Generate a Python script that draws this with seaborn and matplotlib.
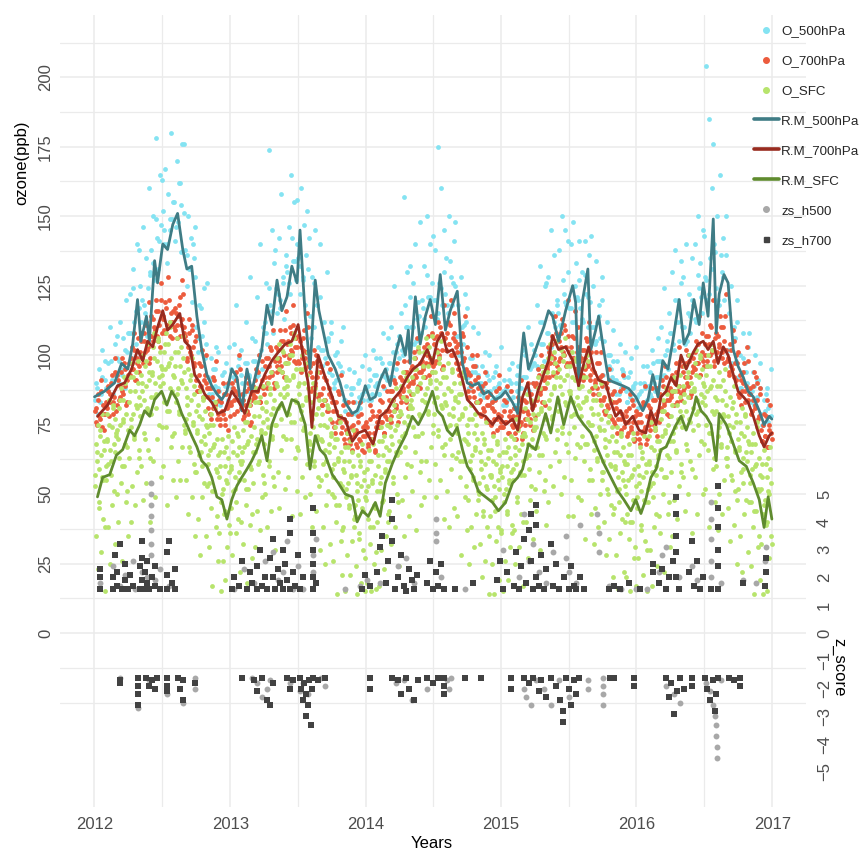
import numpy as np
import pandas as pd
import matplotlib
matplotlib.use("Agg")
import matplotlib.pyplot as plt
import matplotlib.dates as mdates
from matplotlib.lines import Line2D
import seaborn as sns

# ---------------- data ----------------
years = [2012, 2013, 2014, 2015, 2016]

# O_500hPa observations (ppb), one row per month (first sample set)
o500_2012 = [84, 90, 79, 95, 86, 102, 82, 91,
             88, 97, 83, 110, 91, 86, 104, 93,
             99, 90, 112, 95, 106, 88, 120, 101,
             108, 122, 99, 131, 112, 104, 140, 117,
             125, 112, 146, 118, 135, 107, 160, 129,
             138, 150, 127, 178, 142, 131, 165, 147,
             152, 140, 167, 133, 158, 145, 180, 149,
             155, 141, 170, 148, 162, 137, 176, 151,
             138, 125, 150, 131, 142, 119, 135, 128,
             110, 101, 118, 96, 107, 124, 99, 104,
             92, 86, 99, 84, 95, 89, 103, 88,
             87, 82, 93, 80, 89, 97, 84, 90]
o500_2013 = [95, 88, 104, 91, 118, 86, 99, 93,
             90, 84, 97, 112, 87, 93, 128, 89,
             98, 105, 92, 121, 100, 140, 95, 110,
             112, 126, 104, 174, 118, 145, 108, 133,
             124, 115, 142, 120, 158, 128, 113, 136,
             130, 146, 122, 165, 134, 155, 127, 140,
             135, 122, 160, 128, 147, 118, 152, 131,
             114, 106, 128, 110, 145, 118, 103, 121,
             102, 96, 112, 99, 130, 105, 94, 108,
             93, 88, 100, 91, 97, 86, 105, 94,
             84, 80, 89, 83, 95, 86, 79, 88,
             83, 79, 90, 85, 81, 96, 84, 87]
o500_2014 = [88, 84, 95, 91, 86, 102, 89, 93,
             90, 86, 99, 93, 108, 88, 95, 91,
             97, 92, 110, 101, 125, 95, 104, 99,
             106, 115, 100, 157, 110, 130, 103, 121,
             110, 126, 104, 140, 113, 119, 148, 108,
             117, 132, 110, 150, 121, 140, 114, 126,
             120, 138, 113, 175, 126, 160, 118, 145,
             122, 135, 115, 150, 128, 118, 141, 125,
             107, 118, 100, 128, 110, 104, 122, 112,
             92, 88, 99, 94, 110, 90, 96, 93,
             90, 86, 96, 89, 101, 87, 93, 91,
             87, 84, 92, 88, 96, 85, 90, 86]
o500_2015 = [86, 82, 91, 88, 84, 95, 87, 90,
             85, 81, 90, 87, 96, 83, 88, 92,
             92, 100, 88, 110, 95, 104, 90, 97,
             100, 118, 95, 132, 104, 112, 98, 125,
             108, 128, 102, 145, 115, 136, 110, 120,
             115, 138, 110, 150, 122, 145, 118, 130,
             117, 140, 112, 148, 125, 133, 120, 141,
             117, 130, 112, 141, 122, 110, 136, 119,
             110, 125, 104, 134, 112, 118, 106, 128,
             93, 105, 90, 112, 96, 100, 92, 98,
             91, 86, 98, 90, 104, 88, 94, 92,
             87, 83, 92, 85, 99, 88, 84, 90]
o500_2016 = [85, 81, 90, 87, 96, 83, 88, 84,
             89, 94, 85, 102, 90, 87, 98, 92,
             98, 110, 92, 124, 100, 105, 95, 115,
             108, 130, 102, 138, 112, 120, 105, 126,
             110, 128, 104, 140, 115, 122, 108, 135,
             118, 140, 112, 150, 124, 133, 115, 145,
             128, 204, 120, 185, 135, 160, 176, 140,
             124, 150, 118, 165, 130, 142, 120, 136,
             102, 115, 96, 125, 106, 110, 98, 120,
             92, 100, 88, 108, 94, 97, 90, 103,
             87, 83, 94, 89, 100, 85, 91, 88,
             79, 75, 84, 80, 88, 76, 82, 78]
# O_500hPa second sample set
o500b_2012 = [88, 83, 92, 98, 87, 98, 93, 107, 98, 93, 102, 108, 108, 124, 116, 138,
              120, 115, 124, 130, 133, 149, 141, 163, 145, 140, 149, 155, 146, 162, 154, 176,
              136, 131, 140, 146, 106, 117, 112, 126, 91, 86, 95, 101, 83, 94, 89, 103]
o500b_2013 = [92, 87, 96, 102, 86, 97, 92, 106, 98, 93, 102, 108, 108, 124, 116, 138,
              122, 117, 126, 132, 126, 142, 134, 156, 132, 127, 136, 142, 110, 126, 118, 140,
              102, 97, 106, 112, 90, 101, 96, 110, 84, 79, 88, 94, 80, 91, 86, 100]
o500b_2014 = [89, 84, 93, 99, 86, 97, 92, 106, 97, 92, 101, 107, 102, 118, 110, 132,
              110, 105, 114, 120, 113, 129, 121, 143, 120, 115, 124, 130, 118, 134, 126, 148,
              107, 102, 111, 117, 88, 99, 94, 108, 90, 85, 94, 100, 83, 94, 89, 103]
o500b_2015 = [87, 82, 91, 97, 82, 93, 88, 102, 92, 87, 96, 102, 96, 112, 104, 126,
              108, 103, 112, 118, 111, 127, 119, 141, 117, 112, 121, 127, 113, 129, 121, 143,
              110, 105, 114, 120, 89, 100, 95, 109, 91, 86, 95, 101, 83, 94, 89, 103]
o500b_2016 = [86, 81, 90, 96, 86, 97, 92, 106, 98, 93, 102, 108, 104, 120, 112, 134,
              110, 105, 114, 120, 113, 129, 121, 143, 127, 122, 131, 137, 120, 136, 128, 150,
              102, 97, 106, 112, 88, 99, 94, 108, 87, 82, 91, 97, 75, 86, 81, 95]

# O_700hPa
o700_2012 = [80, 76, 86, 78, 91, 74, 82, 79,
             82, 89, 78, 86, 93, 83, 99, 80,
             93, 84, 89, 99, 86, 95, 82, 91,
             97, 93, 103, 95, 108, 91, 99, 96,
             101, 108, 97, 105, 112, 102, 119, 99,
             114, 105, 110, 120, 107, 116, 103, 126,
             113, 109, 119, 111, 128, 107, 115, 112,
             110, 117, 106, 114, 121, 111, 127, 108,
             107, 98, 103, 113, 100, 109, 96, 105,
             91, 87, 97, 89, 102, 85, 93, 90,
             81, 88, 77, 85, 92, 82, 98, 79,
             84, 75, 80, 90, 77, 86, 73, 82]
o700_2013 = [83, 90, 79, 87, 94, 84, 100, 81,
             86, 77, 82, 92, 79, 88, 75, 84,
             89, 85, 95, 87, 100, 83, 91, 88,
             92, 99, 88, 96, 103, 93, 109, 90,
             103, 94, 99, 109, 96, 105, 92, 116,
             104, 100, 110, 102, 118, 98, 106, 103,
             98, 105, 94, 102, 109, 99, 115, 96,
             96, 87, 92, 102, 89, 98, 85, 94,
             86, 82, 92, 84, 97, 80, 88, 85,
             76, 83, 72, 80, 87, 77, 93, 74,
             77, 68, 73, 83, 70, 79, 66, 75,
             72, 68, 78, 70, 83, 66, 74, 71]
o700_2014 = [76, 67, 72, 82, 69, 78, 65, 74,
             78, 74, 84, 76, 89, 72, 80, 77,
             80, 87, 76, 84, 91, 81, 97, 78,
             92, 83, 88, 98, 85, 94, 81, 90,
             95, 91, 101, 93, 106, 89, 97, 94,
             96, 103, 92, 100, 107, 97, 114, 94,
             106, 97, 102, 112, 99, 108, 95, 118,
             106, 102, 112, 104, 120, 100, 108, 105,
             97, 104, 93, 101, 108, 98, 114, 95,
             94, 85, 90, 100, 87, 96, 83, 92,
             83, 79, 89, 81, 94, 77, 85, 82,
             76, 83, 72, 80, 87, 77, 93, 74]
o700_2015 = [78, 74, 84, 76, 89, 72, 80, 77,
             74, 81, 70, 78, 85, 75, 91, 72,
             84, 75, 80, 90, 77, 86, 73, 82,
             89, 85, 95, 87, 100, 83, 91, 88,
             96, 103, 92, 100, 107, 97, 114, 94,
             107, 98, 103, 113, 100, 109, 96, 120,
             101, 97, 107, 99, 116, 95, 103, 100,
             95, 102, 91, 99, 106, 96, 112, 93,
             95, 86, 91, 101, 88, 97, 84, 93,
             84, 80, 90, 82, 95, 78, 86, 83,
             76, 83, 72, 80, 87, 77, 93, 74,
             80, 71, 76, 86, 73, 82, 69, 78]
o700_2016 = [72, 79, 68, 76, 83, 73, 89, 70,
             82, 73, 78, 88, 75, 84, 71, 80,
             85, 81, 91, 83, 96, 79, 87, 84,
             86, 93, 82, 90, 97, 87, 103, 84,
             96, 87, 92, 102, 89, 98, 85, 94,
             99, 95, 105, 97, 114, 93, 101, 98,
             100, 107, 96, 104, 111, 101, 120, 98,
             108, 99, 104, 114, 101, 110, 97, 122,
             98, 94, 104, 96, 109, 92, 100, 97,
             86, 93, 82, 90, 97, 87, 103, 84,
             88, 79, 84, 94, 81, 90, 77, 86,
             73, 69, 79, 71, 84, 67, 75, 72]
# O_700hPa second sample set
o700b_2012 = [81, 75, 84, 77, 87, 79, 73, 83, 81, 87, 83, 90, 79, 85, 94, 82,
              91, 85, 94, 87, 97, 89, 83, 93, 93, 99, 95, 102, 91, 97, 106, 94,
              105, 99, 108, 101, 111, 103, 97, 107, 107, 113, 109, 116, 105, 111, 120, 108,
              114, 108, 117, 110, 120, 112, 106, 116, 109, 115, 111, 118, 107, 113, 122, 110,
              105, 99, 108, 101, 111, 103, 97, 107, 87, 93, 89, 96, 85, 91, 100, 88,
              85, 79, 88, 81, 91, 83, 77, 87, 77, 83, 79, 86, 75, 81, 90, 78]
o700b_2013 = [82, 88, 84, 91, 80, 86, 95, 83, 84, 78, 87, 80, 90, 82, 76, 86,
              85, 91, 87, 94, 83, 89, 98, 86, 96, 90, 99, 92, 102, 94, 88, 98,
              96, 102, 98, 105, 94, 100, 109, 97, 105, 99, 108, 101, 111, 103, 97, 107,
              97, 103, 99, 106, 95, 101, 110, 98, 94, 88, 97, 90, 100, 92, 86, 96,
              82, 88, 84, 91, 80, 86, 95, 83, 80, 74, 83, 76, 86, 78, 72, 82,
              70, 76, 72, 79, 68, 74, 83, 71, 73, 67, 76, 69, 79, 71, 65, 75]
o700b_2014 = [74, 68, 77, 70, 80, 72, 66, 76, 74, 80, 76, 83, 72, 78, 87, 75,
              84, 78, 87, 80, 90, 82, 76, 86, 85, 91, 87, 94, 83, 89, 98, 86,
              96, 90, 99, 92, 102, 94, 88, 98, 95, 101, 97, 104, 93, 99, 108, 96,
              104, 98, 107, 100, 110, 102, 96, 106, 102, 108, 104, 111, 100, 106, 115, 103,
              101, 95, 104, 97, 107, 99, 93, 103, 87, 93, 89, 96, 85, 91, 100, 88,
              84, 78, 87, 80, 90, 82, 76, 86, 75, 81, 77, 84, 73, 79, 88, 76]
o700b_2015 = [74, 80, 76, 83, 72, 78, 87, 75, 78, 72, 81, 74, 84, 76, 70, 80,
              77, 83, 79, 86, 75, 81, 90, 78, 90, 84, 93, 86, 96, 88, 82, 92,
              95, 101, 97, 104, 93, 99, 108, 96, 105, 99, 108, 101, 111, 103, 97, 107,
              97, 103, 99, 106, 95, 101, 110, 98, 99, 93, 102, 95, 105, 97, 91, 101,
              88, 94, 90, 97, 86, 92, 101, 89, 85, 79, 88, 81, 91, 83, 77, 87,
              75, 81, 77, 84, 73, 79, 88, 76, 78, 72, 81, 74, 84, 76, 70, 80]
o700b_2016 = [76, 70, 79, 72, 82, 74, 68, 78, 75, 81, 77, 84, 73, 79, 88, 76,
              86, 80, 89, 82, 92, 84, 78, 88, 85, 91, 87, 94, 83, 89, 98, 86,
              94, 88, 97, 90, 100, 92, 86, 96, 95, 101, 97, 104, 93, 99, 108, 96,
              104, 98, 107, 100, 110, 102, 96, 106, 101, 107, 103, 110, 99, 105, 114, 102,
              99, 93, 102, 95, 105, 97, 91, 101, 85, 91, 87, 94, 83, 89, 98, 86,
              86, 80, 89, 82, 92, 84, 78, 88, 69, 75, 71, 78, 67, 73, 82, 70]

# O_SFC
osfc_2012 = [53, 35, 65, 23, 59, 45, 73, 29, 56, 41, 69, 15,
             55, 69, 38, 75, 25, 62, 46, 82, 51, 65, 32, 71,
             73, 40, 63, 84, 54, 26, 76, 60, 90, 47, 67, 35,
             63, 87, 40, 77, 53, 92, 71, 46, 82, 58, 98, 66,
             78, 60, 90, 48, 84, 70, 98, 54, 81, 66, 94, 40,
             79, 93, 62, 99, 49, 86, 70, 106, 75, 89, 56, 95,
             93, 60, 83, 104, 74, 46, 96, 80, 110, 67, 87, 55,
             72, 96, 49, 86, 62, 101, 80, 55, 91, 67, 107, 75,
             73, 55, 85, 43, 79, 65, 93, 49, 76, 61, 89, 35,
             58, 72, 41, 78, 28, 65, 49, 85, 54, 68, 35, 74,
             64, 31, 54, 75, 45, 17, 67, 51, 81, 38, 58, 26,
             36, 60, 15, 50, 26, 65, 44, 19, 55, 31, 71, 39]
osfc_2013 = [45, 59, 28, 65, 16, 52, 36, 72, 41, 55, 22, 61,
             65, 32, 55, 76, 46, 18, 68, 52, 82, 39, 59, 27,
             54, 78, 31, 68, 44, 83, 62, 37, 73, 49, 89, 57,
             68, 50, 80, 38, 74, 60, 88, 44, 71, 56, 84, 30,
             75, 89, 58, 95, 45, 82, 66, 102, 71, 85, 52, 91,
             89, 56, 79, 100, 70, 42, 92, 76, 106, 63, 83, 51,
             66, 90, 43, 80, 56, 95, 74, 49, 85, 61, 101, 69,
             68, 50, 80, 38, 74, 60, 88, 44, 71, 56, 84, 30,
             55, 69, 38, 75, 25, 62, 46, 82, 51, 65, 32, 71,
             59, 26, 49, 70, 40, 14, 62, 46, 76, 33, 53, 21,
             38, 62, 15, 52, 28, 67, 46, 21, 57, 33, 73, 41,
             42, 24, 54, 14, 48, 34, 62, 18, 45, 30, 58, 15]
osfc_2014 = [51, 18, 41, 62, 32, 15, 54, 38, 68, 25, 45, 16,
             40, 64, 17, 54, 30, 69, 48, 23, 59, 35, 75, 43,
             62, 44, 74, 32, 68, 54, 82, 38, 65, 50, 78, 24,
             65, 79, 48, 85, 35, 72, 56, 92, 61, 75, 42, 81,
             84, 51, 74, 95, 65, 37, 87, 71, 101, 58, 78, 46,
             72, 96, 49, 86, 62, 101, 80, 55, 91, 67, 107, 75,
             79, 61, 91, 49, 85, 71, 99, 55, 82, 67, 95, 41,
             68, 82, 51, 88, 38, 75, 59, 95, 64, 78, 45, 84,
             75, 42, 65, 86, 56, 28, 78, 62, 92, 49, 69, 37,
             48, 72, 25, 62, 38, 77, 56, 31, 67, 43, 83, 51,
             50, 32, 62, 20, 56, 42, 70, 26, 53, 38, 66, 14,
             42, 56, 25, 62, 14, 49, 33, 69, 38, 52, 19, 58]
osfc_2015 = [36, 60, 15, 50, 26, 65, 44, 19, 55, 31, 71, 39,
             55, 37, 67, 25, 61, 47, 75, 31, 58, 43, 71, 17,
             57, 71, 40, 77, 27, 64, 48, 84, 53, 67, 34, 73,
             77, 44, 67, 88, 58, 30, 80, 64, 94, 51, 71, 39,
             70, 94, 47, 84, 60, 99, 78, 53, 89, 65, 105, 73,
             80, 62, 92, 50, 86, 72, 100, 56, 83, 68, 96, 42,
             72, 86, 55, 92, 42, 79, 63, 99, 68, 82, 49, 88,
             81, 48, 71, 92, 62, 34, 84, 68, 98, 55, 75, 43,
             55, 79, 32, 69, 45, 84, 63, 38, 74, 50, 90, 58,
             58, 40, 70, 28, 64, 50, 78, 34, 61, 46, 74, 20,
             45, 59, 28, 65, 16, 52, 36, 72, 41, 55, 22, 61,
             53, 20, 43, 64, 34, 15, 56, 40, 70, 27, 47, 17]
osfc_2016 = [45, 27, 57, 16, 51, 37, 65, 21, 48, 33, 61, 15,
             47, 61, 30, 67, 17, 54, 38, 74, 43, 57, 24, 63,
             69, 36, 59, 80, 50, 22, 72, 56, 86, 43, 63, 31,
             58, 82, 35, 72, 48, 87, 66, 41, 77, 53, 93, 61,
             74, 56, 86, 44, 80, 66, 94, 50, 77, 62, 90, 36,
             73, 87, 56, 93, 43, 80, 64, 100, 69, 83, 50, 89,
             85, 52, 75, 96, 66, 38, 88, 72, 102, 59, 79, 47,
             60, 84, 37, 74, 50, 89, 68, 43, 79, 55, 95, 63,
             63, 45, 75, 33, 69, 55, 83, 39, 66, 51, 79, 25,
             52, 66, 35, 72, 22, 59, 43, 79, 48, 62, 29, 68,
             57, 24, 47, 68, 38, 14, 60, 44, 74, 31, 51, 19,
             32, 56, 14, 46, 22, 61, 40, 15, 51, 27, 67, 35]
# O_SFC second sample set
osfcb_2012 = [57, 68, 62, 75, 47, 71, 64, 79, 55, 66, 38, 60,
              70, 79, 61, 84, 66, 57, 74, 81, 68, 77, 72, 50,
              70, 81, 75, 88, 60, 84, 77, 92, 68, 79, 51, 73,
              83, 92, 74, 97, 79, 70, 87, 94, 81, 90, 85, 63,
              82, 93, 87, 100, 72, 96, 89, 104, 80, 91, 63, 85,
              94, 103, 85, 108, 90, 81, 98, 105, 92, 101, 96, 74,
              90, 101, 95, 108, 80, 104, 97, 112, 88, 99, 71, 93,
              92, 101, 83, 106, 88, 79, 96, 103, 90, 99, 94, 72,
              77, 88, 82, 95, 67, 91, 84, 99, 75, 86, 58, 80,
              73, 82, 64, 87, 69, 60, 77, 84, 71, 80, 75, 53,
              61, 72, 66, 79, 51, 75, 68, 83, 59, 70, 42, 64,
              56, 65, 47, 70, 52, 43, 60, 67, 54, 63, 58, 36]
osfcb_2013 = [60, 69, 51, 74, 56, 47, 64, 71, 58, 67, 62, 40,
              62, 73, 67, 80, 52, 76, 69, 84, 60, 71, 43, 65,
              74, 83, 65, 88, 70, 61, 78, 85, 72, 81, 76, 54,
              72, 83, 77, 90, 62, 86, 79, 94, 70, 81, 53, 75,
              90, 99, 81, 104, 86, 77, 94, 101, 88, 97, 92, 70,
              86, 97, 91, 104, 76, 100, 93, 108, 84, 95, 67, 89,
              86, 95, 77, 100, 82, 73, 90, 97, 84, 93, 88, 66,
              72, 83, 77, 90, 62, 86, 79, 94, 70, 81, 53, 75,
              70, 79, 61, 84, 66, 57, 74, 81, 68, 77, 72, 50,
              56, 67, 61, 74, 46, 70, 63, 78, 54, 65, 37, 59,
              58, 67, 49, 72, 54, 45, 62, 69, 56, 65, 60, 38,
              46, 57, 51, 64, 36, 60, 53, 68, 44, 55, 27, 49]
osfcb_2014 = [48, 59, 53, 66, 38, 62, 55, 70, 46, 57, 29, 51,
              60, 69, 51, 74, 56, 47, 64, 71, 58, 67, 62, 40,
              66, 77, 71, 84, 56, 80, 73, 88, 64, 75, 47, 69,
              80, 89, 71, 94, 76, 67, 84, 91, 78, 87, 82, 60,
              81, 92, 86, 99, 71, 95, 88, 103, 79, 90, 62, 84,
              92, 101, 83, 106, 88, 79, 96, 103, 90, 99, 94, 72,
              83, 94, 88, 101, 73, 97, 90, 105, 81, 92, 64, 86,
              83, 92, 74, 97, 79, 70, 87, 94, 81, 90, 85, 63,
              72, 83, 77, 90, 62, 86, 79, 94, 70, 81, 53, 75,
              68, 77, 59, 82, 64, 55, 72, 79, 66, 75, 70, 48,
              54, 65, 59, 72, 44, 68, 61, 76, 52, 63, 35, 57,
              57, 66, 48, 71, 53, 44, 61, 68, 55, 64, 59, 37]
osfcb_2015 = [56, 65, 47, 70, 52, 43, 60, 67, 54, 63, 58, 36,
              59, 70, 64, 77, 49, 73, 66, 81, 57, 68, 40, 62,
              72, 81, 63, 86, 68, 59, 76, 83, 70, 79, 74, 52,
              74, 85, 79, 92, 64, 88, 81, 96, 72, 83, 55, 77,
              90, 99, 81, 104, 86, 77, 94, 101, 88, 97, 92, 70,
              84, 95, 89, 102, 74, 98, 91, 106, 82, 93, 65, 87,
              87, 96, 78, 101, 83, 74, 91, 98, 85, 94, 89, 67,
              78, 89, 83, 96, 68, 92, 85, 100, 76, 87, 59, 81,
              75, 84, 66, 89, 71, 62, 79, 86, 73, 82, 77, 55,
              62, 73, 67, 80, 52, 76, 69, 84, 60, 71, 43, 65,
              60, 69, 51, 74, 56, 47, 64, 71, 58, 67, 62, 40,
              50, 61, 55, 68, 40, 64, 57, 72, 48, 59, 31, 53]
osfcb_2016 = [49, 60, 54, 67, 39, 63, 56, 71, 47, 58, 30, 52,
              62, 71, 53, 76, 58, 49, 66, 73, 60, 69, 64, 42,
              66, 77, 71, 84, 56, 80, 73, 88, 64, 75, 47, 69,
              78, 87, 69, 92, 74, 65, 82, 89, 76, 85, 80, 58,
              78, 89, 83, 96, 68, 92, 85, 100, 76, 87, 59, 81,
              88, 97, 79, 102, 84, 75, 92, 99, 86, 95, 90, 68,
              82, 93, 87, 100, 72, 96, 89, 104, 80, 91, 63, 85,
              80, 89, 71, 94, 76, 67, 84, 91, 78, 87, 82, 60,
              67, 78, 72, 85, 57, 81, 74, 89, 65, 76, 48, 70,
              67, 76, 58, 81, 63, 54, 71, 78, 65, 74, 69, 47,
              54, 65, 59, 72, 44, 68, 61, 76, 52, 63, 35, 57,
              52, 61, 43, 66, 48, 39, 56, 63, 50, 59, 54, 32]

# Running means (day offset from 2012-01-01, ppb)
rm500_day = [0, 27, 54, 73, 90, 103, 116, 125, 140, 148, 162, 170, 184, 197, 211, 224, 238, 249, 262, 276,
             289, 303, 316, 330, 343, 357, 370, 384, 397, 411, 424, 438, 451, 465, 478, 492, 505, 519, 532, 546,
             554, 568, 581, 595, 605, 630, 649, 662, 676, 695, 708, 722, 730, 743, 757, 770, 784, 797, 811, 824,
             838, 846, 851, 865, 878, 892, 905, 919, 932, 946, 959, 978, 992, 1005, 1019, 1035, 1049, 1062, 1081, 1095,
             1108, 1127, 1141, 1149, 1157, 1170, 1184, 1197, 1211, 1224, 1235, 1251, 1270, 1289, 1297, 1305, 1316, 1330, 1338, 1351,
             1359, 1370, 1386, 1405, 1424, 1440, 1459, 1478, 1492, 1505, 1519, 1532, 1546, 1559, 1576, 1589, 1603, 1616, 1630, 1641,
             1654, 1668, 1676, 1684, 1697, 1708, 1722, 1735, 1749, 1762, 1776, 1792, 1805, 1819, 1826]
rm500 = [85, 87, 90, 97, 95, 104, 120, 105, 114, 105, 134, 126, 140, 138, 147, 151, 138, 131, 132, 114,
         102, 93, 89, 86, 84, 87, 95, 92, 80, 95, 87, 95, 102, 118, 111, 127, 116, 121, 132, 126,
         145, 114, 95, 127, 116, 100, 95, 90, 83, 79, 80, 85, 89, 84, 85, 91, 95, 89, 100, 107,
         100, 109, 97, 121, 104, 114, 120, 111, 129, 109, 116, 123, 97, 90, 89, 90, 86, 87, 84, 85,
         87, 83, 79, 97, 108, 95, 100, 105, 110, 116, 114, 105, 116, 125, 119, 89, 120, 131, 102, 109,
         114, 104, 91, 90, 89, 88, 85, 80, 84, 93, 85, 98, 95, 105, 120, 104, 108, 120, 111, 126,
         114, 149, 108, 122, 129, 126, 102, 96, 92, 87, 85, 80, 75, 78, 77]

rm700_day = [8, 35, 62, 81, 100, 116, 130, 143, 157, 170, 184, 197, 211, 230, 243, 257, 270, 284, 297, 316,
             332, 351, 370, 386, 405, 424, 441, 459, 478, 495, 514, 532, 549, 562, 576, 586, 603, 622, 641, 657,
             676, 695, 711, 730, 751, 770, 789, 805, 824, 843, 859, 878, 897, 911, 924, 938, 951, 965, 978, 992,
             1005, 1019, 1035, 1054, 1073, 1089, 1108, 1127, 1141, 1154, 1168, 1181, 1195, 1208, 1224, 1235, 1251, 1270, 1289, 1305,
             1319, 1332, 1346, 1359, 1378, 1392, 1405, 1419, 1432, 1451, 1468, 1486, 1500, 1514, 1527, 1541, 1554, 1568, 1581, 1595,
             1614, 1627, 1641, 1654, 1668, 1681, 1695, 1708, 1722, 1735, 1749, 1762, 1776, 1792, 1805, 1819, 1826]
rm700 = [78, 82, 89, 90, 95, 102, 98, 105, 103, 110, 116, 109, 111, 115, 105, 103, 93, 90, 86, 83,
         79, 80, 87, 84, 79, 87, 87, 93, 98, 101, 104, 105, 111, 100, 90, 74, 100, 92, 85, 78,
         77, 69, 72, 73, 68, 78, 80, 84, 87, 92, 95, 97, 102, 97, 105, 108, 101, 102, 98, 91,
         84, 82, 79, 78, 75, 78, 75, 77, 73, 85, 90, 80, 87, 92, 98, 107, 102, 103, 98, 89,
         97, 103, 95, 91, 90, 83, 78, 80, 75, 78, 73, 72, 80, 75, 85, 87, 92, 89, 100, 95,
         101, 104, 105, 102, 105, 97, 103, 100, 93, 87, 85, 83, 78, 71, 67, 71, 72]

rmsfc_day = [8, 22, 41, 59, 76, 95, 108, 122, 135, 149, 162, 181, 195, 208, 222, 235, 249, 262, 276, 289,
             303, 316, 330, 343, 357, 370, 384, 397, 411, 424, 438, 451, 465, 478, 492, 505, 519, 532, 549, 568,
             581, 595, 608, 622, 641, 657, 676, 695, 708, 722, 738, 757, 770, 784, 803, 819, 838, 857, 873, 892,
             911, 924, 938, 951, 965, 978, 992, 1005, 1019, 1035, 1054, 1073, 1089, 1108, 1127, 1141, 1154, 1170, 1189, 1208,
             1216, 1230, 1249, 1265, 1284, 1303, 1319, 1338, 1357, 1373, 1392, 1411, 1427, 1446, 1459, 1473, 1486, 1500, 1514, 1527,
             1541, 1554, 1568, 1581, 1595, 1614, 1622, 1635, 1649, 1662, 1676, 1684, 1703, 1722, 1738, 1757, 1776, 1792, 1805, 1816, 1826]
rmsfc = [49, 56, 57, 64, 66, 73, 71, 75, 80, 78, 84, 87, 82, 87, 84, 79, 75, 71, 67, 62,
         60, 56, 49, 48, 41, 48, 53, 56, 59, 62, 66, 71, 62, 75, 80, 83, 78, 84, 83, 75,
         59, 71, 66, 64, 57, 54, 50, 49, 40, 44, 42, 47, 42, 54, 61, 66, 71, 78, 75, 80,
         87, 80, 78, 73, 71, 74, 66, 60, 57, 51, 49, 47, 44, 47, 54, 56, 59, 68, 66, 75,
         79, 72, 85, 75, 85, 78, 75, 72, 66, 61, 56, 51, 48, 44, 48, 43, 48, 56, 59, 66,
         67, 71, 75, 78, 73, 80, 85, 80, 78, 75, 62, 79, 75, 68, 62, 60, 54, 48, 38, 49, 41]

# z-scores (|z| > 1.5), day offset from 2012-01-01
zs700_day = [14, 14, 14, 49, 49, 55, 62, 62, 68, 75, 82, 82, 90, 97, 103, 122, 122, 128, 128, 128, 135, 135, 141, 141,
             148, 155, 162, 162, 176, 195, 195, 195, 202, 209, 216, 216,
             370, 376, 390, 397, 411, 418, 424, 438, 438, 445, 452, 459, 466, 473, 480, 480, 487, 494, 500, 508, 508,
             514, 520, 527, 527, 527, 534, 541, 548, 555, 561, 590, 590, 590, 590, 590, 590, 596,
             720, 728, 743, 762, 770, 776, 785, 792, 803, 803, 803, 810, 819, 826, 833, 840, 848, 855, 862, 870,
             897, 905, 912, 920, 927, 934, 941, 973, 1019,
             1086, 1093, 1100, 1113, 1130, 1137, 1143, 1150, 1157, 1163, 1170, 1176, 1176, 1183, 1190, 1190, 1190,
             1197, 1204, 1211, 1218, 1230, 1237, 1244, 1251, 1265, 1278, 1284, 1292, 1299, 1310, 1320,
             1386, 1400, 1416, 1440, 1470, 1505, 1505, 1522, 1530, 1541, 1548, 1560, 1568, 1568, 1568, 1568, 1568,
             1576, 1603, 1610, 1617, 1625, 1632, 1641, 1662, 1681, 1681, 1681, 1681, 1681, 1681, 1749, 1808, 1811, 1811,
             68, 68, 116, 116, 116, 116, 140, 147, 155, 162, 168, 195, 195, 195, 224, 230, 238, 238, 270,
             397, 430, 438, 452, 466, 473, 481, 519, 527, 535, 554, 558, 562, 566, 570, 570, 575, 579, 583, 586, 590, 603, 622,
             743, 743, 803, 819, 826, 840, 848, 862, 873, 897, 912, 927, 941, 941, 941, 1000, 1041,
             1122, 1122, 1157, 1170, 1183, 1197, 1204, 1218, 1230, 1244, 1255, 1262, 1262, 1270, 1278, 1284, 1292, 1299, 1305, 1390, 1400,
             1454, 1454, 1541, 1548, 1555, 1562, 1570, 1577, 1590, 1610, 1610, 1645, 1652, 1660, 1668, 1672, 1676, 1681,
             1710, 1725, 1740, 1740]
zs700 = [1.6, 2.0, 2.3, 1.6, 2.0, 2.8, 1.7, 2.2, 3.2, 1.6, 1.9, 2.5, 1.6, 2.1, 1.7, 1.6, 2.4, 1.9, 2.7, 3.3, 1.6, 2.2, 1.8, 2.6,
         1.6, 2.0, 1.7, 2.4, 1.6, 1.6, 2.1, 2.9, 3.3, 1.8, 1.6, 2.3,
         1.6, 2.0, 1.7, 2.6, 1.6, 2.2, 1.8, 1.6, 2.4, 3.0, 1.7, 2.0, 1.6, 2.7, 3.4, 2.0, 1.6, 2.3, 1.8, 3.0, 1.6,
         2.5, 1.9, 1.6, 3.6, 4.1, 2.2, 1.7, 2.8, 1.6, 2.0, 1.6, 2.0, 2.5, 3.0, 3.6, 4.5, 1.8,
         1.6, 2.1, 1.7, 2.2, 3.1, 3.5, 1.8, 2.6, 3.3, 4.1, 4.8, 1.6, 2.0, 2.8, 1.7, 1.5, 2.3, 1.9, 1.6, 2.1,
         1.8, 2.6, 1.6, 2.2, 1.7, 2.5, 1.6, 1.6, 1.8,
         1.9, 2.6, 1.6, 2.2, 1.7, 2.9, 1.6, 2.4, 3.4, 1.8, 3.7, 4.3, 2.6, 1.6, 4.6, 3.9, 2.0,
         1.7, 2.8, 1.6, 2.3, 3.2, 1.7, 2.5, 1.6, 2.0, 1.6, 2.4, 1.7, 1.6, 2.0, 1.6,
         1.6, 1.7, 1.6, 1.8, 1.6, 2.2, 2.5, 1.8, 2.3, 1.6, 2.0, 2.6, 4.9, 4.3, 3.5, 2.9, 2.0,
         1.6, 2.2, 3.3, 1.7, 2.6, 1.6, 2.0, 1.6, 5.3, 4.5, 3.8, 3.0, 2.4, 1.6, 1.8, 1.7, 2.2, 2.7,
         -1.7, -1.8, -1.6, -1.9, -2.2, -2.6, -1.6, -1.9, -1.7, -2.0, -1.6, -1.6, -1.9, -2.1, -1.6, -2.0, -1.7, -2.4, -1.8,
         -1.6, -1.7, -2.1, -1.6, -2.4, -2.6, -1.8, -1.6, -2.0, -1.7, -1.6, -2.0, -2.4, -1.8, -2.2, -3.0, -2.6, -1.7, -3.3, -2.0, -1.6, -1.7, -1.6,
         -1.6, -2.0, -1.6, -1.7, -2.2, -1.6, -2.0, -2.4, -1.7, -1.6, -1.8, -1.6, -1.6, -1.9, -2.2, -1.6, -1.6,
         -1.6, -2.0, -1.6, -1.8, -1.6, -2.1, -1.7, -2.3, -1.6, -1.9, -2.4, -2.8, -3.2, -1.6, -2.0, -2.6, -1.7, -2.2, -1.6, -1.6, -1.6,
         -1.6, -1.9, -1.6, -2.3, -1.8, -2.9, -2.1, -1.6, -2.0, -1.6, -1.9, -1.6, -2.0, -2.4, -1.7, -2.8, -2.2, -1.6,
         -1.6, -1.7, -1.6, -1.9]

zs500_day = [14, 49, 68, 82, 103, 110, 128, 141, 152, 152, 152, 152, 152, 152, 152, 162, 176, 202,
             376, 404, 430, 459, 480, 494, 508, 520, 534, 548, 561, 590, 590, 596, 675,
             716, 735, 770, 819, 840, 862, 920, 920, 920, 934, 1000,
             1100, 1143, 1157, 1170, 1183, 1197, 1218, 1237, 1270, 1270, 1278, 1299, 1310, 1355, 1359, 1359, 1386, 1420, 1460, 1490,
             1522, 1530, 1541, 1576, 1610, 1625, 1662, 1662, 1662, 1662, 1662, 1690, 1749, 1782, 1808, 1811,
             68, 116, 147, 195, 238, 270, 270,
             424, 438, 452, 466, 473, 527, 554, 562, 575, 610, 622,
             812, 833, 855, 897, 950, 955, 960,
             1157, 1163, 1176, 1190, 1211, 1230, 1251, 1278, 1330, 1330, 1370, 1370, 1370, 1370,
             1541, 1562, 1577, 1648, 1660, 1668, 1672, 1676, 1676, 1679, 1679, 1690]
zs500 = [1.8, 2.4, 1.7, 2.1, 2.6, 1.6, 2.2, 2.0, 5.4, 5.0, 4.6, 4.2, 3.7, 3.2, 2.8, 1.9, 2.3, 1.7,
         1.6, 2.3, 1.8, 2.6, 2.9, 1.9, 2.2, 3.3, 1.6, 2.4, 1.6, 2.2, 2.8, 3.4, 1.6,
         1.7, 1.9, 1.8, 2.4, 2.7, 1.8, 4.1, 3.6, 3.3, 2.0, 1.6,
         3.0, 2.0, 4.3, 2.6, 3.2, 2.2, 1.8, 2.9, 3.5, 2.7, 2.2, 1.8, 3.9, 4.3, 3.6, 2.9, 1.7, 1.6, 1.6, 1.6,
         2.2, 2.8, 3.1, 2.0, 2.4, 1.9, 4.7, 4.1, 3.4, 2.6, 2.0, 1.8, 1.9, 1.8, 2.6, 3.1,
         -1.6, -2.7, -1.7, -2.2, -2.5, -1.6, -2.0,
         -1.6, -1.8, -2.3, -2.0, -1.7, -1.8, -2.1, -1.8, -2.2, -1.6, -1.9,
         -1.8, -1.7, -2.4, -2.0, -1.7, -2.0, -1.6,
         -2.0, -2.3, -2.6, -1.7, -2.0, -2.6, -1.7, -2.3, -1.7, -2.0, -1.6, -1.9, -2.2, -2.6,
         -1.9, -2.2, -2.5, -1.8, -2.1, -2.6, -3.0, -3.3, -3.7, -4.1, -4.5, -1.7]

ozone_ticks = [0, 25, 50, 75, 100, 125, 150, 175, 200]
z_ticks = [-5, -4, -3, -2, -1, 0, 1, 2, 3, 4, 5]
legend_labels = ["O_500hPa", "O_700hPa", "O_SFC", "R.M_500hPa", "R.M_700hPa", "R.M_SFC", "zs_h500", "zs_h700"]

# ---------------- helpers ----------------
base = pd.Timestamp("2012-01-01")


def yearly_frame(arrays, phase):
    parts = []
    for yr, vals in zip(years, arrays):
        n = len(vals)
        d = pd.Timestamp(f"{yr}-01-01") + pd.to_timedelta((np.arange(n) + phase) * (365.0 / n), unit="D")
        parts.append(pd.DataFrame({"date": d, "ppb": vals}))
    return pd.concat(parts, ignore_index=True)


def day_frame(days, vals, col):
    return pd.DataFrame({"date": base + pd.to_timedelta(days, unit="D"), col: vals})


df500 = pd.concat([yearly_frame([o500_2012, o500_2013, o500_2014, o500_2015, o500_2016], 0.3),
                   yearly_frame([o500b_2012, o500b_2013, o500b_2014, o500b_2015, o500b_2016], 0.8)])
df700 = pd.concat([yearly_frame([o700_2012, o700_2013, o700_2014, o700_2015, o700_2016], 0.3),
                   yearly_frame([o700b_2012, o700b_2013, o700b_2014, o700b_2015, o700b_2016], 0.8)])
dfsfc = pd.concat([yearly_frame([osfc_2012, osfc_2013, osfc_2014, osfc_2015, osfc_2016], 0.3),
                   yearly_frame([osfcb_2012, osfcb_2013, osfcb_2014, osfcb_2015, osfcb_2016], 0.8)])
drm500 = day_frame(rm500_day, rm500, "ppb")
drm700 = day_frame(rm700_day, rm700, "ppb")
drmsfc = day_frame(rmsfc_day, rmsfc, "ppb")
dz500 = day_frame(zs500_day, zs500, "z")
dz700 = day_frame(zs700_day, zs700, "z")

# ---------------- style ----------------
c500, c700, csfc = "#84E3F2", "#EC5B3D", "#B7E46C"
l500, l700, lsfc = "#3F7C85", "#982B1F", "#5F8B2E"
cz500, cz700 = "#A8A8A8", "#424242"
grid_c = "#EBEBEB"
tick_c = "#4D4D4D"

sns.set_theme(style="white")
plt.rcParams["font.family"] = ["Liberation Sans", "DejaVu Sans"]

fig = plt.figure(figsize=(8.63, 8.52), dpi=100)
ax = fig.add_axes([60 / 863, 45 / 852, 746 / 863, 792 / 852])

sns.scatterplot(data=df500, x="date", y="ppb", ax=ax, color=c500, s=12, linewidth=0, legend=False, zorder=2)
sns.scatterplot(data=df700, x="date", y="ppb", ax=ax, color=c700, s=12, linewidth=0, legend=False, zorder=2)
sns.scatterplot(data=dfsfc, x="date", y="ppb", ax=ax, color=csfc, s=12, linewidth=0, legend=False, zorder=2)
sns.lineplot(data=drm500, x="date", y="ppb", ax=ax, color=l500, linewidth=2.0, sort=False, estimator=None,
             errorbar=None, legend=False, zorder=3)
sns.lineplot(data=drm700, x="date", y="ppb", ax=ax, color=l700, linewidth=2.0, sort=False, estimator=None,
             errorbar=None, legend=False, zorder=3)
sns.lineplot(data=drmsfc, x="date", y="ppb", ax=ax, color=lsfc, linewidth=2.0, sort=False, estimator=None,
             errorbar=None, legend=False, zorder=3)

y_lo, y_hi = -62.6, 222.4
ax.set_ylim(y_lo, y_hi)
ax.set_xlim(base - pd.Timedelta(days=93), pd.Timestamp("2017-01-01") + pd.Timedelta(days=91))

# secondary axis for z-scores (ozone / 10)
ax2 = ax.twinx()
ax2.set_position(ax.get_position())
ax2.set_ylim(y_lo / 10, y_hi / 10)
sns.scatterplot(data=dz500, x="date", y="z", ax=ax2, color=cz500, s=18, linewidth=0, marker="o", legend=False)
sns.scatterplot(data=dz700, x="date", y="z", ax=ax2, color=cz700, s=15, linewidth=0, marker="s", legend=False)
ax2.set_xlim(ax.get_xlim())

# grids
ax.set_yticks(ozone_ticks)
ax.set_yticks([-25, -12.5] + [t + 12.5 for t in ozone_ticks], minor=True)
ax.xaxis.set_major_locator(mdates.YearLocator())
ax.xaxis.set_major_formatter(mdates.DateFormatter("%Y"))
ax.xaxis.set_minor_locator(mdates.MonthLocator(bymonth=7, bymonthday=2))
ax.grid(which="major", color=grid_c, linewidth=1.1)
ax.grid(which="minor", color=grid_c, linewidth=0.9)
ax.set_axisbelow(True)
for a in (ax, ax2):
    for sp in a.spines.values():
        sp.set_visible(False)
ax2.grid(False)

ax.tick_params(axis="both", which="both", length=0)
ax.tick_params(axis="y", labelsize=12, labelcolor=tick_c, pad=5, labelrotation=90)
ax.tick_params(axis="x", labelsize=12, labelcolor=tick_c, pad=7)
for lab in ax.get_yticklabels():
    lab.set_va("center")

ax2.set_yticks(z_ticks)
ax2.tick_params(axis="y", which="both", length=0, labelsize=12, labelcolor=tick_c, pad=8, labelrotation=90)
for lab in ax2.get_yticklabels():
    lab.set_va("center")
ax2.set_ylabel("")
ax.set_ylabel("")
ax.set_xlabel("")
ax2.set_xlabel("")

fig.text(22 / 863, 1 - 163 / 852, "ozone(ppb)", rotation=90, ha="center", va="center", fontsize=12, color="black")
fig.text(432 / 863, 1 - 843 / 852, "Years", ha="center", va="center", fontsize=12, color="black")
fig.text(839 / 863, 1 - 667 / 852, "z_score", rotation=270, ha="center", va="center", fontsize=12, color="black")

handles = [
    Line2D([], [], marker="o", ls="", color=c500, markersize=4),
    Line2D([], [], marker="o", ls="", color=c700, markersize=4),
    Line2D([], [], marker="o", ls="", color=csfc, markersize=4),
    Line2D([], [], color=l500, lw=2.6),
    Line2D([], [], color=l700, lw=2.6),
    Line2D([], [], color=lsfc, lw=2.6),
    Line2D([], [], marker="o", ls="", color=cz500, markersize=4),
    Line2D([], [], marker="s", ls="", color=cz700, markersize=3.6),
]
fig.legend(handles, legend_labels, loc="upper left", bbox_to_anchor=(754 / 863, 1 - 25 / 852),
           frameon=False, fontsize=9.6, handlelength=1.85, handletextpad=0.2, labelspacing=1.32,
           borderpad=0, borderaxespad=0)

fig.savefig("out.png", dpi=100)
